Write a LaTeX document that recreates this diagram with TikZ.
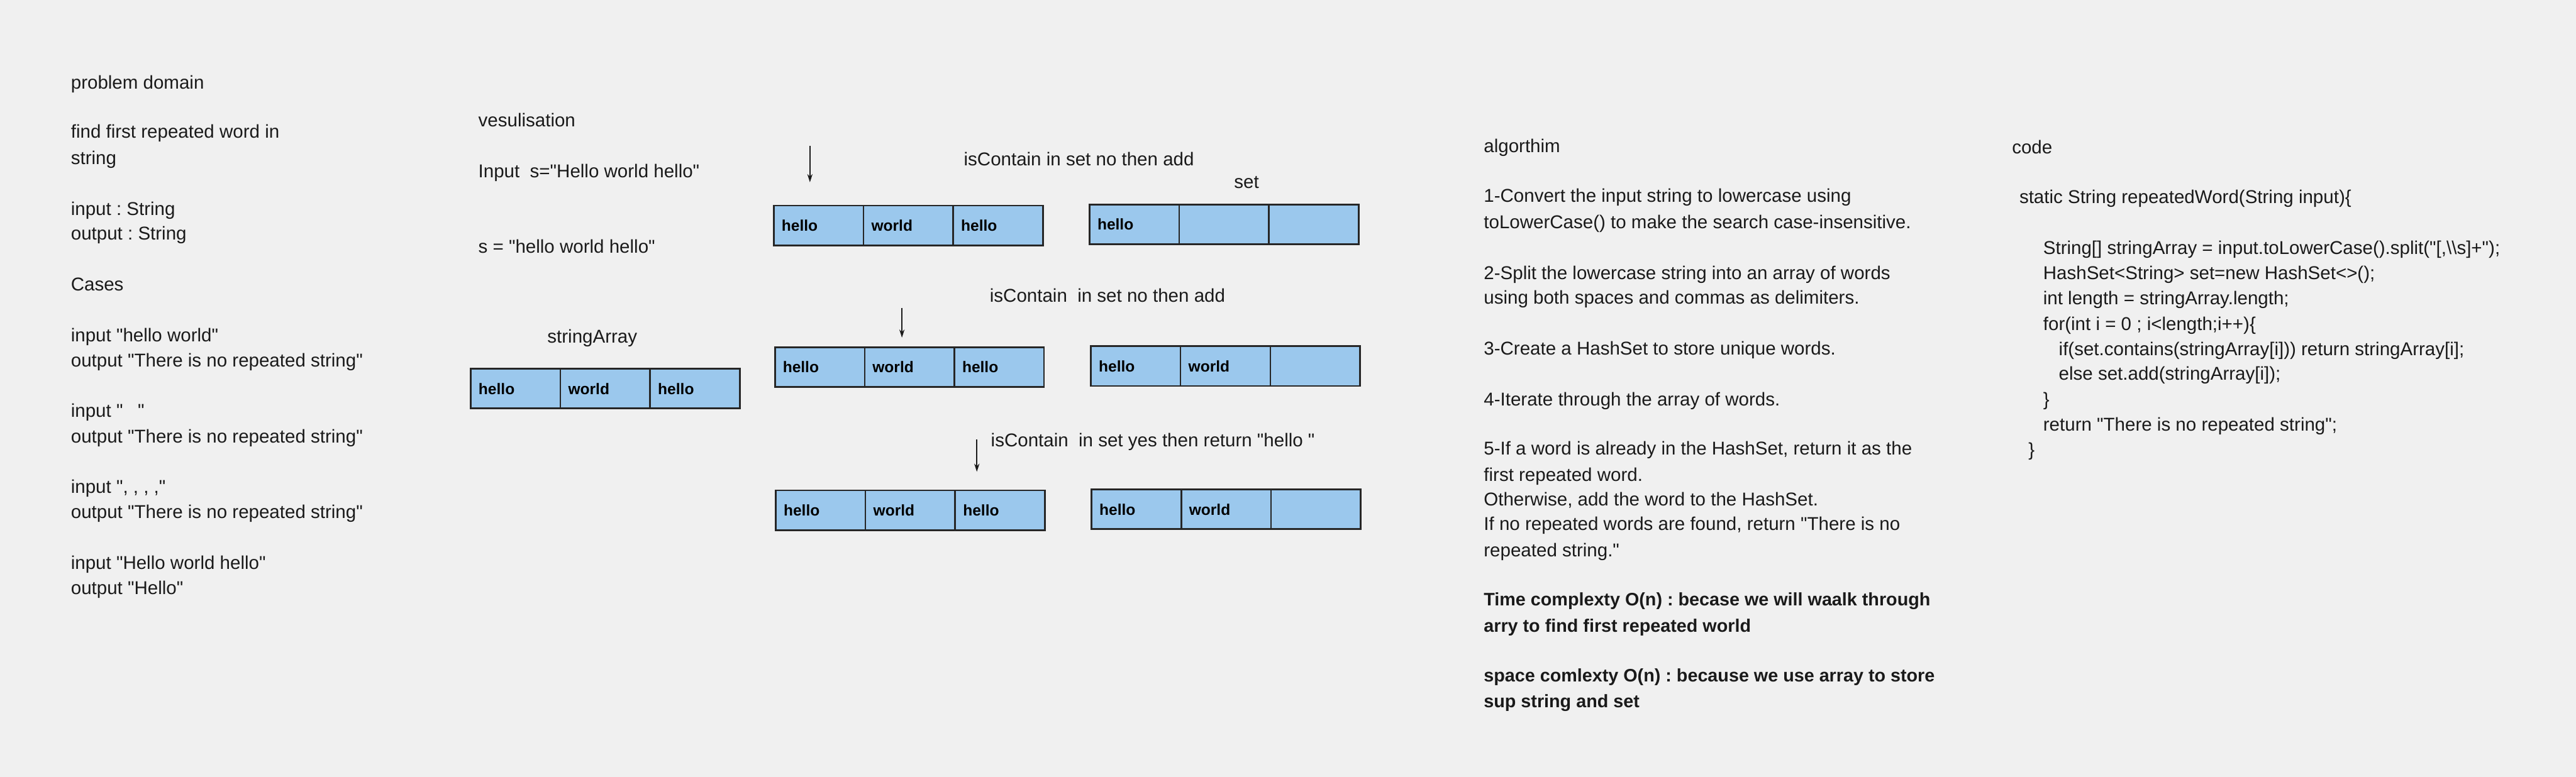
\documentclass[tikz,border=0pt]{standalone}
\usepackage{fontspec}
\setmainfont{Liberation Sans}[Ligatures=TeXOff]
\usetikzlibrary{arrows.meta}
\definecolor{bg}{HTML}{F0F0F0}
\definecolor{cellblue}{RGB}{155,200,237}
\definecolor{ink}{HTML}{1A1A1A}
\definecolor{edge}{HTML}{262626}
\frenchspacing
\begin{document}
\begin{tikzpicture}[x=1pt,y=-1pt,
 txt/.style={anchor=west, inner sep=0pt, text height=8pt, text depth=0pt, text=ink, font=\fontsize{11.3}{13}\selectfont},
 btxt/.style={txt, font=\fontsize{11}{13}\selectfont\bfseries},
 cell/.style={draw=edge, line width=1pt, fill=cellblue, outer sep=0pt, anchor=west, minimum height=24.2pt, text width=45pt, inner xsep=4.8pt, inner ysep=0pt, align=left, text height=7pt, text depth=0pt, font=\fontsize{9.4}{10}\selectfont\bfseries, text=black},
 ptr/.style={draw=ink, line width=0.6pt, -{Stealth[length=5pt,width=3.2pt]}}
]
\useasboundingbox (0,0) rectangle (1568,473);
\fill[bg] (0,0) rectangle (1568,473);

% problem domain
\node[txt] (pd1) at (43,50) {problem domain};
\node[txt] (pd2) at (43,80) {find first repeated word in};
\node[txt] (pd3) at (43,96) {string};
\node[txt] (pd4) at (43,127) {input : String};
\node[txt] (pd5) at (43,142) {output : String};
\node[txt] (pd6) at (43,173) {Cases};
\node[txt] (pd7) at (43,204) {input "hello world"};
\node[txt] (pd8) at (43,219.5) {output "There is no repeated string"};
\node[txt] (pd9) at (43,250) {input "\hspace{9pt}"};
\node[txt] (pd10) at (43,265.5) {output "There is no repeated string"};
\node[txt] (pd11) at (43,296.5) {input ", , , ,"};
\node[txt] (pd12) at (43,311.5) {output "There is no repeated string"};
\node[txt] (pd13) at (43,342.5) {input "Hello world hello"};
\node[txt] (pd14) at (43,358) {output "Hello"};

% visualisation
\node[txt] (v1) at (291,73) {vesulisation};
\node[txt] (v2) at (291,104) {Input\ \ s="Hello world hello"};
\node[txt] (v3) at (291,150) {s = "hello world hello"};
\node[txt] (v4) at (333,205) {stringArray};
\node[cell] (r0a) at (286.5,236.6) {hello};
\node[cell] (r0b) at (r0a.east) {world};
\node[cell] (r0c) at (r0b.east) {hello};

% step 1
\node[txt] (s1) at (586.5,96.8) {isContain in set no then add};
\node[txt] (setlbl) at (751,110.5) {set};
\coordinate (p1s) at (493,88.9);
\coordinate (p1e) at (493,111);
\draw[ptr] (p1s) -- (p1e);
\node[cell] (r1a) at (471,137.3) {hello};
\node[cell] (r1b) at (r1a.east) {world};
\node[cell] (r1c) at (r1b.east) {hello};
\node[cell] (t1a) at (663.2,136.6) {hello};
\node[cell] (t1b) at (t1a.east) {};
\node[cell] (t1c) at (t1b.east) {};

% step 2
\node[txt] (s2) at (602.3,180) {isContain\ \ in set no then add};
\coordinate (p2s) at (549,187.4);
\coordinate (p2e) at (549,205.6);
\draw[ptr] (p2s) -- (p2e);
\node[cell] (r2a) at (471.7,223.5) {hello};
\node[cell] (r2b) at (r2a.east) {world};
\node[cell] (r2c) at (r2b.east) {hello};
\node[cell] (t2a) at (664,222.9) {hello};
\node[cell] (t2b) at (t2a.east) {world};
\node[cell] (t2c) at (t2b.east) {};

% step 3
\node[txt] (s3) at (603,267.8) {isContain\ \ in set yes then return "hello "};
\coordinate (p3s) at (594.6,267.6);
\coordinate (p3e) at (594.6,287.3);
\draw[ptr] (p3s) -- (p3e);
\node[cell] (r3a) at (472.2,310.7) {hello};
\node[cell] (r3b) at (r3a.east) {world};
\node[cell] (r3c) at (r3b.east) {hello};
\node[cell] (t3a) at (664.4,310.1) {hello};
\node[cell] (t3b) at (t3a.east) {world};
\node[cell] (t3c) at (t3b.east) {};

% algorithm
\node[txt] (a0) at (903,89) {algorthim};
\node[txt] (a1) at (903,119) {1-Convert the input string to lowercase using};
\node[txt] (a2) at (903,135) {toLowerCase() to make the search case-insensitive.};
\node[txt] (a3) at (903,166) {2-Split the lowercase string into an array of words};
\node[txt] (a4) at (903,181) {using both spaces and commas as delimiters.};
\node[txt] (a5) at (903,212) {3-Create a HashSet to store unique words.};
\node[txt] (a6) at (903,243) {4-Iterate through the array of words.};
\node[txt] (a7) at (903,273) {5-If a word is already in the HashSet, return it as the};
\node[txt] (a8) at (903,289) {first repeated word.};
\node[txt] (a9) at (903,304) {Otherwise, add the word to the HashSet.};
\node[txt] (a10) at (903,319) {If no repeated words are found, return "There is no};
\node[txt] (a11) at (903,335) {repeated string."};
\node[btxt] (a12) at (903,365) {Time complexty O(n) : becase we will waalk through};
\node[btxt] (a13) at (903,381) {arry to find first repeated world};
\node[btxt] (a14) at (903,411) {space comlexty O(n) : because we use array to store};
\node[btxt] (a15) at (903,427) {sup string and set};

% code
\node[txt] (c0) at (1224.5,89.5) {code};
\node[txt] (c1) at (1229,120) {static String repeatedWord(String input)\{};
\node[txt] (c2) at (1243.5,151) {String[] stringArray = input.toLowerCase().split("[,\textbackslash\textbackslash s]+");};
\node[txt] (c3) at (1243.5,166) {HashSet<String> set=new HashSet<>();};
\node[txt] (c4) at (1243.5,181.5) {int length = stringArray.length;};
\node[txt] (c5) at (1243.5,197) {for(int i = 0 ; i<length;i++)\{};
\node[txt] (c6) at (1253,212.3) {if(set.contains(stringArray[i])) return stringArray[i];};
\node[txt] (c7) at (1253,227.6) {else set.add(stringArray[i]);};
\node[txt] (c8) at (1243.5,243) {\}};
\node[txt] (c9) at (1243.5,258.5) {return "There is no repeated string";};
\node[txt] (c10) at (1234.5,273.8) {\}};
\end{tikzpicture}
\end{document}
